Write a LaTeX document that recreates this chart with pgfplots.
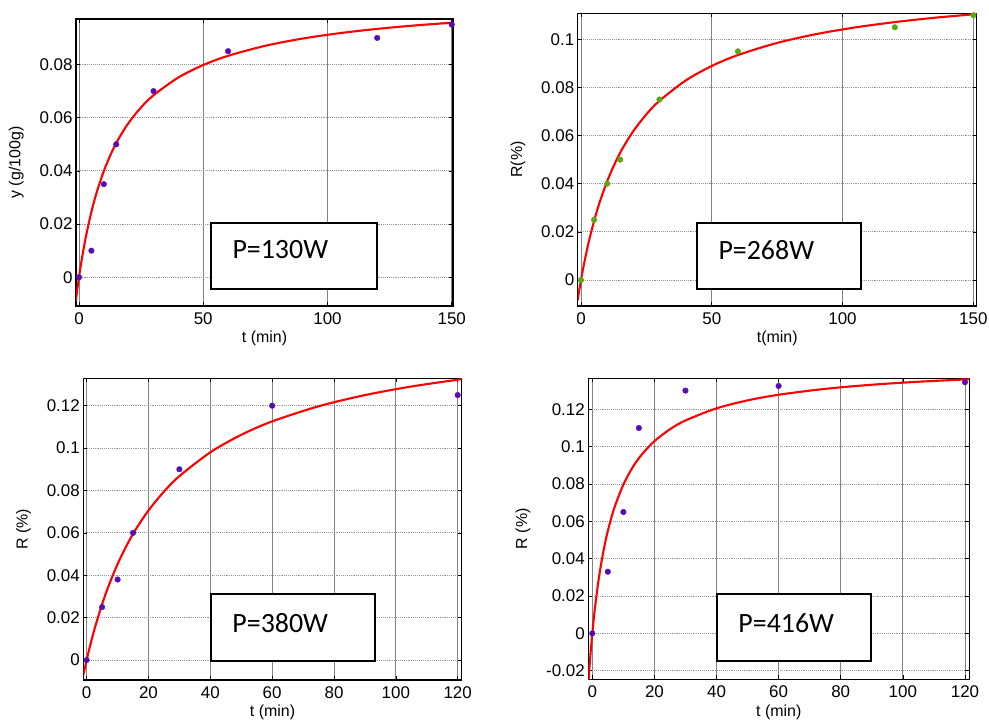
\documentclass[border=0pt]{standalone}
\usepackage{pgfplots}
\pgfplotsset{compat=1.18}
\usepackage{fontspec}
\setmainfont{Liberation Sans}
\newfontfamily\boxfont{Carlito}
\definecolor{mpurple}{RGB}{88,12,180}
\definecolor{mgreen}{RGB}{90,170,20}
\definecolor{hgrid}{RGB}{150,150,150}
\definecolor{vgrid}{RGB}{130,130,130}
\tikzset{
  pbox/.style={line width=2bp, fill=white},
  ptext/.style={anchor=west, inner sep=0pt, font=\boxfont\fontsize{28}{30}\selectfont},
}
\pgfplotsset{
  panel/.style={
    anchor=north west, scale only axis,
    axis line style={line width=1.4bp, black},
    tick align=inside, major tick length=4bp,
    tick style={black, line width=0.6bp},
    xmajorgrids, ymajorgrids,
    x grid style={vgrid, line width=0.9bp},
    y grid style={hgrid, line width=0.9bp, densely dotted},
    scaled y ticks=false,
    /pgf/number format/assume math mode=true,
    yticklabel style={/pgf/number format/fixed, /pgf/number format/precision=2, font=\fontsize{17}{19}\selectfont},
    xticklabel style={font=\fontsize{17}{19}\selectfont, yshift=-3bp},
    label style={font=\fontsize{16}{18}\selectfont},
    ylabel shift=9bp,
    clip=true,
  },
  fit/.style={red, line width=2.1bp, no marks, smooth},
  pts/.style={only marks, mark=*, mark size=2.8bp},
}
\begin{document}
\begin{tikzpicture}
\useasboundingbox (0,0) rectangle (989bp,-720bp);
% Panel 1
\begin{axis}[panel, at={(76bp,-19bp)}, width=377bp, height=287bp,
  xmin=-1.2, xmax=150.5, ymin=-0.0108, ymax=0.0971,
  xtick={0,50,100,150}, ytick={0,0.02,0.04,0.06,0.08},
  xlabel={t (min)}, ylabel={y (g/100g)}]
\addplot[fit] coordinates {(-1.3,-0.0091)(-0.6,-0.00399)(0,0)(1,0.00604)(2,0.01143)(3,0.01627)(5,0.02461)(7,0.03153)(10,0.03996)(13,0.04669)(16,0.05217)(20,0.05809)(25,0.06388)(30,0.06843)(40,0.07512)(50,0.07980)(60,0.08326)(75,0.08704)(90,0.08975)(105,0.09179)(120,0.09338)(135,0.09466)(151,0.09577)};
\addplot[pts, mpurple] coordinates {(0,0)(5,0.01)(10,0.035)(15,0.05)(30,0.07)(60,0.085)(120,0.09)(150,0.095)};
\draw[pbox] (axis cs:53.2,-0.0043) rectangle (axis cs:119.8,0.0205);
\node[ptext] at (axis cs:61.7,0.0103) {P=130W};
\end{axis}
% Panel 2
\begin{axis}[panel, at={(577.7bp,-13.3bp)}, width=399bp, height=292.7bp,
  xmin=-1.26, xmax=151.3, ymin=-0.0108, ymax=0.1108,
  xtick={0,50,100,150}, ytick={0,0.02,0.04,0.06,0.08,0.1},
  xlabel={t(min)}, ylabel={R(\%)}]
\addplot[fit] coordinates {(-1.3,-0.0085)(-0.6,-0.00377)(0,0)(1,0.00581)(2,0.01111)(3,0.01596)(5,0.02452)(7,0.03184)(10,0.04103)(13,0.04858)(16,0.05489)(20,0.06185)(25,0.06883)(30,0.07444)(40,0.08287)(50,0.08892)(60,0.09346)(75,0.09850)(90,0.10217)(105,0.10496)(120,0.10715)(135,0.10893)(151.3,0.11050)};
\addplot[pts, mgreen] coordinates {(0,0)(5,0.025)(10,0.04)(15,0.05)(30,0.075)(60,0.095)(120,0.105)(150,0.11)};
\draw[pbox] (axis cs:44.2,-0.0036) rectangle (axis cs:107.1,0.0238);
\node[ptext] at (axis cs:52.5,0.0125) {P=268W};
\end{axis}
% Panel 3
\begin{axis}[panel, at={(83.3bp,-378.3bp)}, width=378.4bp, height=301.7bp,
  xmin=-1.08, xmax=121.3, ymin=-0.0094, ymax=0.1329,
  xtick={0,20,40,60,80,100,120}, ytick={0,0.02,0.04,0.06,0.08,0.1,0.12},
  xlabel={t (min)}, ylabel={R (\%)}]
\addplot[fit] coordinates {(-1.1,-0.0072)(-0.5,-0.00322)(0,0)(1,0.00607)(2,0.01169)(3,0.01692)(5,0.02634)(7,0.03460)(10,0.04525)(13,0.05423)(16,0.06191)(20,0.07057)(25,0.07947)(30,0.08676)(40,0.09799)(50,0.10625)(60,0.11258)(75,0.11970)(90,0.12497)(105,0.12903)(121.3,0.13250)};
\addplot[pts, mpurple] coordinates {(0,0)(5,0.025)(10,0.038)(15,0.06)(30,0.09)(60,0.12)(120,0.125)};
\draw[pbox] (axis cs:40.1,-0.0005) rectangle (axis cs:93.4,0.031);
\node[ptext] at (axis cs:47.1,0.0173) {P=380W};
\end{axis}
% Panel 4
\begin{axis}[panel, at={(588.3bp,-378.3bp)}, width=381bp, height=301bp,
  xmin=-1.29, xmax=121.4, ymin=-0.0246, ymax=0.1366,
  xtick={0,20,40,60,80,100,120}, ytick={-0.02,0,0.02,0.04,0.06,0.08,0.1,0.12},
  xlabel={t (min)}, ylabel={R (\%)}]
\addplot[fit] coordinates {(-1.29,-0.02698)(-1,-0.02007)(-0.5,-0.00939)(0,0)(0.5,0.00831)(1,0.01573)(2,0.02839)(3,0.03879)(4,0.04750)(5,0.05489)(7,0.06676)(10,0.07968)(13,0.08896)(16,0.09593)(20,0.10293)(25,0.10931)(30,0.11402)(40,0.12051)(50,0.12478)(60,0.12779)(75,0.13095)(90,0.13315)(105,0.13476)(121.4,0.13610)};
\addplot[pts, mpurple] coordinates {(0,0)(5,0.033)(10,0.065)(15,0.11)(30,0.13)(60,0.1325)(120,0.1345)};
\draw[pbox] (axis cs:40.0,-0.0148) rectangle (axis cs:89.7,0.0209);
\node[ptext] at (axis cs:47.0,0.0054) {P=416W};
\end{axis}
\end{tikzpicture}
\end{document}
